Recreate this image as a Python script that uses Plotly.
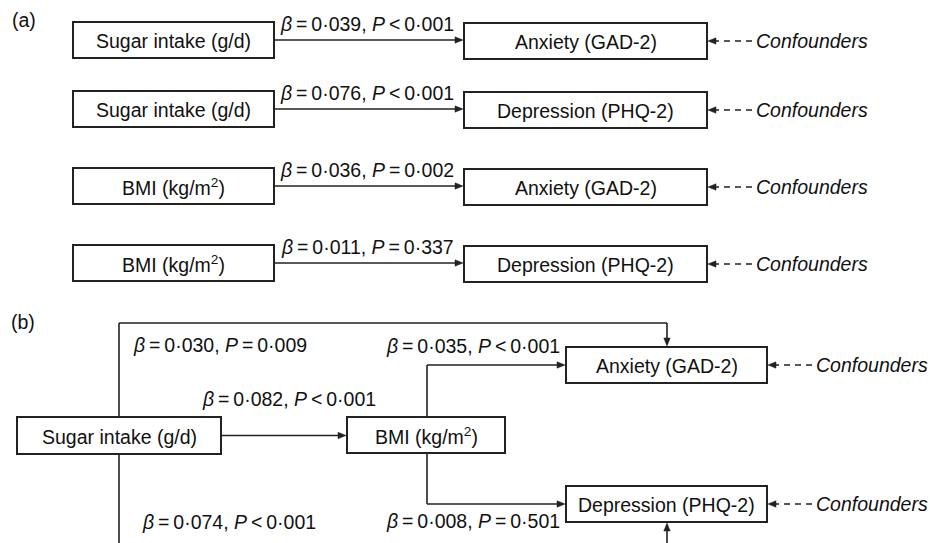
import plotly.graph_objects as go

# ---------------- Data ----------------
panel_labels = ["(a)", "(b)"]
confounder_label = "Confounders"

# Panel (a): separate single-exposure models
a_exposure = ["Sugar intake (g/d)", "Sugar intake (g/d)", "BMI (kg/m<sup>2</sup>)", "BMI (kg/m<sup>2</sup>)"]
a_outcome = ["Anxiety (GAD-2)", "Depression (PHQ-2)", "Anxiety (GAD-2)", "Depression (PHQ-2)"]
a_beta = ["0·039", "0·076", "0·036", "0·011"]
a_p_sign = ["<", "<", "=", "="]
a_p_value = ["0·001", "0·001", "0·002", "0·337"]

# Panel (b): mediation model
b_nodes = ["Sugar intake (g/d)", "BMI (kg/m<sup>2</sup>)", "Anxiety (GAD-2)", "Depression (PHQ-2)"]
b_edges = ["sugar-anxiety", "sugar-bmi", "bmi-anxiety", "sugar-depression", "bmi-depression"]
b_beta = ["0·030", "0·082", "0·035", "0·074", "0·008"]
b_p_sign = ["=", "<", "<", "<", "="]
b_p_value = ["0·009", "0·001", "0·001", "0·001", "0·501"]

# ---------------- Layout geometry (pixels) ----------------
W, H = 930, 543
FONT = "Liberation Sans, Arial, Helvetica, sans-serif"
FS = 19.5
TXT = "#111111"
LINE = "#222222"
BOX_W = 2
ARR_W = 1.6
HEAD_L, HEAD_HW = 8, 3.2
TS = "\u2009"  # thin space used around = and <

A_ROW_Y = [40, 109, 186, 263]
A_BOX_H = 36
A_EXP_X = (73, 274)
A_OUT_X = (464, 707)
A_LABEL_CX = 367
A_LABEL_DY = -16

B_BOX = {  # x0, x1, y0, y1
    "sugar": (17, 221, 417, 454),
    "bmi": (347, 505, 417, 453),
    "anxiety": (566, 767, 347, 383),
    "depression": (566, 767, 486, 522),
}
B_LABEL_POS = {
    "sugar-anxiety": (220, 345),
    "sugar-bmi": (289, 399),
    "bmi-anxiety": (473, 346),
    "sugar-depression": (229, 522),
    "bmi-depression": (473, 521),
}

shapes = []
annotations = []


def esc(s):
    return s.replace("<", "&lt;")


def stat_text(beta, sign, p):
    return f"<i>β</i>{TS}={TS}{beta}, <i>P</i>{TS}{esc(sign)}{TS}{p}"


def text(x, y, s, italic=False, xanchor="center"):
    annotations.append(dict(
        x=x, y=y, xref="x", yref="y", text=s,
        showarrow=False, xanchor=xanchor, yanchor="middle",
        font=dict(family=FONT, size=FS, color=TXT,
                  style=("italic" if italic else "normal")),
    ))


def box(x0, x1, y0, y1, label):
    shapes.append(dict(type="rect", xref="x", yref="y", x0=x0, x1=x1, y0=y0, y1=y1,
                       line=dict(color=LINE, width=BOX_W), fillcolor="white", layer="above"))
    text((x0 + x1) / 2, (y0 + y1) / 2 + 1, label)


def seg(x0, y0, x1, y1, dash="solid"):
    shapes.append(dict(type="line", xref="x", yref="y", x0=x0, y0=y0, x1=x1, y1=y1,
                       line=dict(color=LINE, width=ARR_W, dash=dash)))


def head(xt, yt, d):
    """Filled triangular arrowhead with its tip at (xt, yt); d in right/left/up/down."""
    if d == "right":
        pts = [(xt, yt), (xt - HEAD_L, yt - HEAD_HW), (xt - HEAD_L, yt + HEAD_HW)]
    elif d == "left":
        pts = [(xt, yt), (xt + HEAD_L, yt - HEAD_HW), (xt + HEAD_L, yt + HEAD_HW)]
    elif d == "down":
        pts = [(xt, yt), (xt - HEAD_HW, yt - HEAD_L), (xt + HEAD_HW, yt - HEAD_L)]
    else:
        pts = [(xt, yt), (xt - HEAD_HW, yt + HEAD_L), (xt + HEAD_HW, yt + HEAD_L)]
    path = "M " + " L ".join(f"{x},{y}" for x, y in pts) + " Z"
    shapes.append(dict(type="path", xref="x", yref="y", path=path,
                       fillcolor=LINE, line=dict(color=LINE, width=0.5), layer="above"))


def confounder(x_box_right, y):
    seg(x_box_right + 45, y, x_box_right + 6, y, dash="6px,5px")
    head(x_box_right + 1, y, "left")
    text(x_box_right + 47, y, confounder_label, italic=True, xanchor="left")


# ---------------- Panel (a) ----------------
text(24, 20, panel_labels[0])
for i, y in enumerate(A_ROW_Y):
    box(A_EXP_X[0], A_EXP_X[1], y - A_BOX_H / 2, y + A_BOX_H / 2, a_exposure[i])
    box(A_OUT_X[0], A_OUT_X[1], y - A_BOX_H / 2 + 1, y + A_BOX_H / 2 + 1, a_outcome[i])
    seg(A_EXP_X[1], y, A_OUT_X[0] - 4, y)
    head(A_OUT_X[0] - 1, y, "right")
    text(A_LABEL_CX, y + A_LABEL_DY, stat_text(a_beta[i], a_p_sign[i], a_p_value[i]))
    confounder(A_OUT_X[1], y + 1)

# ---------------- Panel (b) ----------------
text(23, 322, panel_labels[1])
sx0, sx1, sy0, sy1 = B_BOX["sugar"]
bx0, bx1, by0, by1 = B_BOX["bmi"]
ax0, ax1, ay0, ay1 = B_BOX["anxiety"]
dx0, dx1, dy0, dy1 = B_BOX["depression"]
s_vx = 119   # vertical trunk from sugar box
b_vx = 427   # vertical trunk from BMI box
o_vx = 667   # entry x on outcome boxes
top_y = 323
s_cy = (sy0 + sy1) / 2
a_cy = (ay0 + ay1) / 2
d_cy = (dy0 + dy1) / 2

# sugar -> anxiety (over the top)
seg(s_vx, sy0, s_vx, top_y)
seg(s_vx, top_y, o_vx, top_y)
seg(o_vx, top_y, o_vx, ay0 - 4)
head(o_vx, ay0 - 1, "down")
# sugar -> BMI
seg(sx1, s_cy, bx0 - 4, s_cy)
head(bx0 - 1, s_cy, "right")
# BMI -> anxiety
seg(b_vx, by0, b_vx, a_cy)
seg(b_vx, a_cy, ax0 - 4, a_cy)
head(ax0 - 1, a_cy, "right")
# BMI -> depression
seg(b_vx, by1, b_vx, d_cy)
seg(b_vx, d_cy, dx0 - 4, d_cy)
head(dx0 - 1, d_cy, "right")
# sugar -> depression (runs below the visible area)
seg(s_vx, sy1, s_vx, H + 5)
seg(o_vx, H + 5, o_vx, dy1 + 4)
head(o_vx, dy1 + 1, "up")

box(sx0, sx1, sy0, sy1, b_nodes[0])
box(bx0, bx1, by0, by1, b_nodes[1])
box(ax0, ax1, ay0, ay1, b_nodes[2])
box(dx0, dx1, dy0, dy1, b_nodes[3])

for i, e in enumerate(b_edges):
    lx, ly = B_LABEL_POS[e]
    text(lx, ly, stat_text(b_beta[i], b_p_sign[i], b_p_value[i]))

confounder(ax1, a_cy)
confounder(dx1, d_cy)

fig = go.Figure()
fig.update_layout(
    width=W, height=H,
    margin=dict(l=0, r=0, t=0, b=0),
    paper_bgcolor="white", plot_bgcolor="white",
    xaxis=dict(range=[0, W], visible=False, fixedrange=True),
    yaxis=dict(range=[H, 0], visible=False, fixedrange=True),
    shapes=shapes, annotations=annotations, showlegend=False,
)
fig.write_html("out.html")
